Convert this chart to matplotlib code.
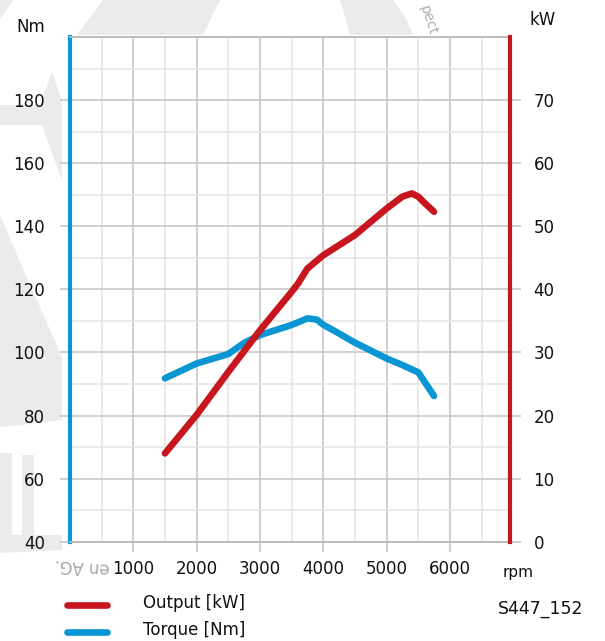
import matplotlib
matplotlib.use("Agg")
import matplotlib.pyplot as plt
from matplotlib.patches import Polygon
from matplotlib.lines import Line2D
from matplotlib.ticker import MultipleLocator

# torque curve (Nm, left axis)
torque_rpm = [1500, 2000, 2500, 2750, 3000, 3500, 3750, 3900, 4000, 4250, 4500, 5000, 5250, 5500, 5750]
torque_nm = [91.8, 96.5, 99.5, 103.0, 105.5, 108.7, 110.8, 110.4, 108.8, 106.0, 103.1, 98.1, 96.0, 93.7, 86.2]

# output curve (kW, right axis)
power_rpm = [1500, 2000, 2500, 3000, 3500, 3600, 3750, 4000, 4500, 5000, 5250, 5400, 5500, 5600, 5750]
power_kw = [14.0, 20.1, 26.9, 33.5, 39.6, 40.9, 43.3, 45.4, 48.6, 52.8, 54.7, 55.2, 54.7, 53.7, 52.3]

x_ticks = [1000, 2000, 3000, 4000, 5000, 6000]
nm_ticks = [40, 60, 80, 100, 120, 140, 160, 180]
kw_ticks = [0, 10, 20, 30, 40, 50, 60, 70]

BLUE = "#0a96d2"
RED = "#c8161e"
GRID_MAJ = "#c4c4c4"
GRID_MIN = "#e4e4e4"
WM = "#ebebeb"

W, H = 605, 641
fig = plt.figure(figsize=(W / 100, H / 100), dpi=100)


def px(x, y):
    return (x / W, 1 - y / H)


# background watermark shapes (pixel coords from top-left)
shapes = [
    [(0, 0), (13, 0), (0, 20)],
    [(103, 0), (220, 0), (203, 35), (77, 35)],
    [(340, 0), (393, 0), (405, 17), (413, 35), (350, 35), (345, 17)],
    [(52, 72), (40, 105), (0, 105), (0, 125), (42, 125), (62, 180), (62, 100)],
    [(0, 215), (28, 280), (62, 357), (62, 420), (30, 424), (0, 427)],
    [(0, 453), (12, 453), (12, 535), (62, 535), (62, 550), (0, 553)],
    [(22, 455), (34, 455), (34, 535), (22, 535)],
]
for s in shapes:
    fig.patches.append(Polygon([px(*p) for p in s], closed=True, transform=fig.transFigure,
                               facecolor=WM, edgecolor="none", zorder=-5))
fig.text(*px(428, 20), "pect", rotation=-72, color="#b0b0b0", fontsize=10,
         ha="center", va="center", zorder=-4)
fig.text(*px(82, 566), "en AG.", rotation=176, color="#a8a8a8", fontsize=12,
         ha="center", va="center", zorder=-4)

ax = fig.add_axes([70 / W, 1 - 541.7 / H, 440 / W, (541.7 - 37) / H])
ax.set_zorder(1)
ax.set_facecolor("white")
ax.set_xlim(0, 6950)
ax.set_ylim(40, 200)

ax.xaxis.set_major_locator(MultipleLocator(1000))
ax.xaxis.set_minor_locator(MultipleLocator(500))
ax.yaxis.set_major_locator(MultipleLocator(20))
ax.yaxis.set_minor_locator(MultipleLocator(10))
ax.grid(which="major", color=GRID_MAJ, lw=1.1)
ax.grid(which="minor", color=GRID_MIN, lw=1.1)
ax.set_axisbelow(True)

ax.set_xticks(x_ticks)
ax.set_xticklabels([str(v) for v in x_ticks])
ax.set_yticks(nm_ticks)
ax.set_yticklabels([str(v) for v in nm_ticks])
ax.tick_params(axis="both", which="major", length=7, width=1.1, color=GRID_MAJ,
               labelsize=12, labelcolor="#111111")
ax.tick_params(axis="y", pad=11)
ax.tick_params(axis="x", pad=6)
ax.tick_params(which="minor", length=0)

for side in ["top", "bottom"]:
    ax.spines[side].set_color("#b8b8b8")
    ax.spines[side].set_linewidth(1.3)
ax.spines["right"].set_visible(False)
ax.spines["left"].set_color(BLUE)
ax.spines["left"].set_linewidth(3)

ax.plot(torque_rpm, torque_nm, color=BLUE, lw=4.8, solid_capstyle="round",
        solid_joinstyle="round", zorder=3)

ax2 = ax.twinx()
ax2.set_zorder(2)
ax2.patch.set_visible(False)
ax2.set_ylim(0, 80)
ax2.set_yticks(kw_ticks)
ax2.set_yticklabels([str(v) for v in kw_ticks])
ax2.tick_params(axis="y", length=8, width=1.1, color=GRID_MAJ, labelsize=12,
                labelcolor="#111111", pad=9)
for side in ["top", "bottom", "left"]:
    ax2.spines[side].set_visible(False)
ax2.spines["right"].set_color(RED)
ax2.spines["right"].set_linewidth(3)
ax2.plot(power_rpm, power_kw, color=RED, lw=4.8, solid_capstyle="round",
         solid_joinstyle="round", zorder=3)

# axis units
fig.text(*px(31, 27), "Nm", fontsize=12, ha="center", va="center", color="#111111")
fig.text(*px(543, 20), "kW", fontsize=12, ha="center", va="center", color="#111111")
fig.text(*px(518, 573), "rpm", fontsize=11, ha="center", va="center", color="#111111")
fig.text(*px(541, 609), "S447_152", fontsize=12.5, ha="center", va="center", color="#111111")

# legend
for yy, col, lab in [(605, RED, "Output [kW]"), (632, BLUE, "Torque [Nm]")]:
    x0, y0 = px(67, yy)
    x1, _ = px(107, yy)
    fig.lines.append(Line2D([x0, x1], [y0, y0], transform=fig.transFigure, color=col,
                            lw=4.8, solid_capstyle="round"))
    fig.text(*px(143, yy - 2), lab, fontsize=12, ha="left", va="center", color="#111111")

fig.savefig("out.png", dpi=100)
